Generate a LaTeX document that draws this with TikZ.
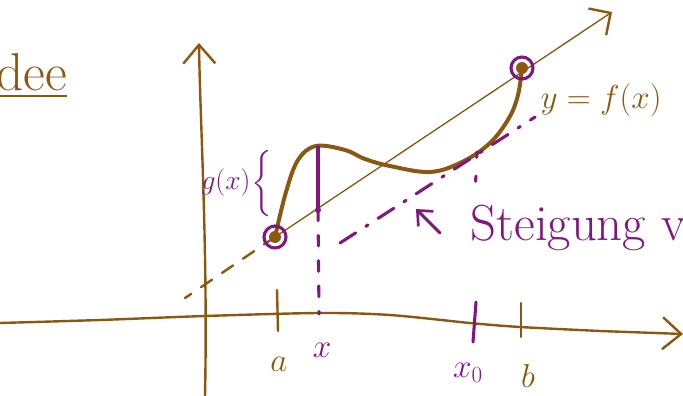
\documentclass[tikz,border=0pt]{standalone}
\usepackage{amsmath}
\usetikzlibrary{arrows.meta}
\definecolor{penbrown}{RGB}{139,88,18}
\definecolor{penpurple}{RGB}{128,22,128}
\tikzset{
  axisline/.style={draw=penbrown, line width=1.8pt, line cap=round},
  secline/.style={draw=penbrown, line width=1pt},
  graphline/.style={draw=penbrown, line width=3pt, line cap=round},
  markline/.style={draw=penpurple, line width=2.3pt, line cap=round},
  hand/.style={-{Straight Barb[length=14pt,width=24pt,line width=1.8pt]}},
  brownlbl/.style={text=penbrown, font=\fontsize{26}{30}\selectfont},
  purplelbl/.style={text=penpurple, font=\fontsize{26}{30}\selectfont}
}
\begin{document}
\begin{tikzpicture}[x=0.75pt,y=-0.75pt]
  \clip (0,0) rectangle (683,396);
  % points
  \coordinate (ybot) at (205,396);
  \coordinate (ytop) at (199,43);
  \coordinate (A) at (275,237);
  \coordinate (B) at (522,68);
  \coordinate (sectip) at (612,12);
  \coordinate (secend) at (185,298);
  \coordinate (xtop) at (318,147);
  \coordinate (xmid) at (318,210);
  \coordinate (xaxis) at (319,314);
  \coordinate (P) at (477,152);
  \coordinate (Pdown) at (475,195);
  \coordinate (tanl) at (340,243);
  \coordinate (tanr) at (535,117);
  % axes
  \draw[axisline,hand] (ybot) .. controls (208,250) and (200,120) .. (ytop);
  \draw[axisline,hand] plot[smooth] coordinates {(0,323) (100,320) (205,316) (320,313) (390,315) (470,323) (520,327) (600,331)}
    -- (683,334);
  % ticks
  \draw[axisline] (277,290) -- (278,331);
  \draw[axisline] (521,303) -- (521,337);
  \draw[markline] (476,302) -- (473,342);
  % secant
  \draw[secline,hand,-{Straight Barb[length=12pt,width=24pt,line width=1.8pt]}] (A) -- (sectip);
  \draw[axisline,dash pattern=on 10pt off 9pt] (A) -- (secend);
  % graph of f
  \draw[graphline] plot[smooth,tension=0.6] coordinates {(A) (286,192) (298,160) (316,146) (345,150) (365,159) (390,166) (430,172) (462,162) (490,143) (509,118) (518,95) (B)};
  % points on the graph
  \foreach \p in {A,B} {
    \fill[penbrown] (\p) circle (6);
    \draw[markline] (\p) circle (11);
  }
  % g(x)
  \draw[markline] (xtop) -- (xmid);
  \fill[penpurple] (xmid) circle (3);
  \draw[markline,dash pattern=on 8pt off 11pt] (xmid) -- (xaxis);
  % tangent
  \draw[markline,dash pattern=on 14pt off 9pt on 2pt off 9pt] (tanl) -- (tanr);
  \draw[markline,dash pattern=on 4pt off 14pt] (P) -- (Pdown);
  % labels
  \node[brownlbl] (lblA) at (279,364) {$a$};
  \node[purplelbl] (lblX) at (322,350) {$x$};
  \node[purplelbl] (lblXo) at (468,373) {$x_0$};
  \node[brownlbl] (lblB) at (528,376) {$b$};
  \node[purplelbl, font=\fontsize{22}{26}\selectfont, inner sep=1pt] (lblG) at (226,183) {$g(x)$};
  \node[purplelbl, font=\fontsize{20}{24}\selectfont, inner sep=0pt] (brace) at (263,182) {$\left\{\rule{0pt}{32pt}\right.$};
  \node[brownlbl, font=\fontsize{31}{36}\selectfont, anchor=west] (lblF) at (536,100) {$y=f(x)$};
  \node[purplelbl, font=\fontsize{38}{44}\selectfont, anchor=west] (lblS) at (466,228) {Steigung von};
  \coordinate (arrfrom) at (440,233);
  \coordinate (arrto) at (416,209);
  \draw[markline,-{Straight Barb[length=9pt,width=16pt,line width=2pt]}] (arrfrom) -- (arrto);
  \node[brownlbl, font=\fontsize{40}{46}\selectfont, anchor=east] (title) at (72,76) {\underline{Idee}};
\end{tikzpicture}
\end{document}
